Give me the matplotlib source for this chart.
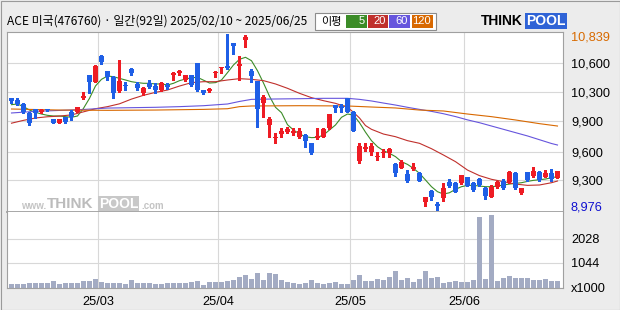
import numpy as np
import matplotlib
matplotlib.use('Agg')
import matplotlib.pyplot as plt
from matplotlib.patches import Rectangle

# ---------------- data ----------------
title = 'ACE 미국(476760) · 일간(92일) 2025/02/10 ~ 2025/06/25'

opens = [10158, 10140, 10098, 10006, 10041, 10010, 10038, 9939, 9900, 9957,
         10013, 10017, 10165, 10405, 10334, 10610, 10444, 10387, 10236, 10299,
         10465, 10306, 10211, 10317, 10288, 10246, 10299, 10408, 10430, 10352,
         10402, 10528, 10246, 10235, 10423, 10476, 10500, 10740, 10500, 10775,
         10451, 10341, 10112, 9879, 9735, 9780, 9805, 9795, 9752, 9770,
         9682, 9735, 9752, 9840, 10087, 10077, 10158, 10013, 9498, 9618,
         9593, 9533, 9576, 9576, 9463, 9424, 9354, 9410, 9371, 9064,
         9177, 9036, 9107, 9272, 9265, 9258, 9322, 9258, 9304, 9212,
         9117, 9223, 9283, 9276, 9371, 9152, 9375, 9336, 9382, 9329,
         9371, 9318]
highs = [10165, 10161, 10105, 10010, 10048, 10048, 10041, 9942, 9942, 9960,
         10034, 10070, 10225, 10405, 10510, 10620, 10450, 10395, 10564, 10334,
         10483, 10331, 10275, 10352, 10317, 10331, 10317, 10440, 10458, 10410,
         10405, 10530, 10250, 10265, 10451, 10493, 10839, 10740, 10606, 10828,
         10469, 10345, 10190, 9957, 9788, 9840, 9851, 9840, 9840, 9780,
         9685, 9840, 9840, 9995, 10087, 10098, 10165, 10020, 9682, 9682,
         9689, 9593, 9618, 9629, 9470, 9505, 9399, 9477, 9375, 9117,
         9184, 9064, 9258, 9300, 9272, 9350, 9328, 9272, 9310, 9219,
         9240, 9286, 9300, 9392, 9378, 9208, 9382, 9428, 9392, 9399,
         9406, 9392]
lows = [10105, 10087, 10005, 9879, 9946, 9999, 10027, 9897, 9897, 9893,
        9929, 10013, 10154, 10211, 10330, 10521, 10352, 10165, 10230, 10246,
        10405, 10246, 10193, 10264, 10211, 10240, 10260, 10352, 10405, 10345,
        10290, 10240, 10205, 10225, 10380, 10423, 10465, 10624, 10352, 10698,
        10334, 9858, 9957, 9752, 9689, 9752, 9795, 9770, 9735, 9646,
        9573, 9728, 9745, 9835, 10010, 10017, 10010, 9810, 9477, 9604,
        9558, 9505, 9540, 9533, 9340, 9417, 9276, 9399, 9283, 9018,
        9082, 8976, 9071, 9223, 9163, 9251, 9226, 9180, 9233, 9089,
        9110, 9205, 9195, 9258, 9198, 9145, 9286, 9329, 9283, 9322,
        9286, 9311]
closes = [10133, 10098, 10013, 9900, 9999, 10031, 10031, 9900, 9939, 9907,
          9957, 10066, 10186, 10334, 10504, 10546, 10387, 10211, 10341, 10289,
          10423, 10271, 10271, 10281, 10246, 10324, 10281, 10423, 10444, 10405,
          10299, 10246, 10214, 10255, 10437, 10486, 10483, 10712, 10522, 10810,
          10398, 10049, 10169, 9939, 9752, 9812, 9833, 9812, 9812, 9710,
          9576, 9763, 9830, 9992, 10052, 10060, 10017, 9816, 9653, 9639,
          9653, 9551, 9593, 9618, 9364, 9488, 9283, 9435, 9286, 9110,
          9110, 9022, 9212, 9233, 9170, 9346, 9233, 9188, 9240, 9124,
          9223, 9272, 9205, 9382, 9205, 9205, 9294, 9389, 9294, 9371,
          9300, 9389]
volumes = [140, 167, 140, 195, 181, 181, 181, 263, 153, 181,
           208, 208, 263, 263, 359, 249, 208, 208, 208, 167,
           304, 208, 181, 208, 167, 153, 195, 195, 181, 208,
           222, 277, 115, 222, 222, 222, 277, 318, 455, 523,
           359, 606, 318, 606, 565, 318, 222, 195, 167, 195,
           318, 195, 167, 195, 222, 167, 153, 318, 523, 277,
           277, 359, 332, 455, 688, 318, 414, 222, 359, 688,
           414, 455, 208, 249, 277, 222, 249, 318, 2947, 359,
           3029, 277, 414, 482, 387, 387, 414, 318, 318, 359,
           277, 277]

ma5 = [10091, 10098, 10070, 10034, 10010, 9992, 9978, 9971, 9971, 9964,
       9957, 9971, 10052, 10158, 10289, 10359, 10394, 10387, 10369, 10352,
       10334, 10324, 10317, 10317, 10310, 10310, 10299, 10317, 10345, 10362,
       10376, 10380, 10350, 10320, 10324, 10352, 10430, 10511, 10571, 10592,
       10556, 10450, 10320, 10180, 10063, 10006, 9879, 9823, 9781, 9752,
       9742, 9745, 9770, 9823, 9876, 9957, 9992, 9981, 9900, 9800,
       9710, 9646, 9604, 9576, 9541, 9488, 9459, 9417, 9364, 9294,
       9223, 9170, 9145, 9159, 9195, 9223, 9237, 9237, 9230, 9223,
       9223, 9230, 9241, 9251, 9258, 9265, 9279, 9290, 9297, 9304,
       9318, 9329]
ma20_day = [0, 2, 4, 6, 8, 10, 12, 14, 16, 18, 20, 22, 24, 26, 28, 30, 32, 34,
            36, 38, 40, 42, 44, 46, 48, 50, 52, 54, 56, 57, 58, 59, 60, 62, 64,
            66, 68, 70, 72, 74, 76, 78, 80, 82, 84, 86, 88, 90, 91]
ma20 = [9895, 9925, 9950, 9963, 9970, 9983, 10015, 10048, 10070, 10100, 10150,
        10190, 10221, 10246, 10288, 10324, 10334, 10334, 10352, 10366, 10359,
        10345, 10310, 10264, 10211, 10165, 10133, 10105, 10063, 10010, 9950,
        9870, 9830, 9780, 9752, 9710, 9682, 9625, 9558, 9488, 9399, 9340,
        9301, 9276, 9251, 9237, 9241, 9265, 9283]
ma60_day = [0, 4, 8, 12, 16, 20, 24, 28, 32, 36, 38, 40, 44, 48, 52, 56, 58,
            60, 62, 64, 66, 68, 70, 72, 74, 76, 78, 80, 82, 84, 86, 88, 90, 91]
ma60 = [10003, 10020, 10030, 10040, 10055, 10059, 10063, 10070, 10080, 10098,
        10125, 10147, 10151, 10154, 10158, 10158, 10147, 10130, 10108, 10087,
        10063, 10041, 10020, 9995, 9965, 9930, 9900, 9865, 9830, 9795, 9760,
        9720, 9680, 9664]
ma120_day = [0, 8, 16, 24, 32, 36, 38, 40, 48, 56, 60, 64, 68, 72, 76, 80, 84,
             88, 91]
ma120 = [10045, 10034, 10031, 10034, 10041, 10048, 10070, 10077, 10080, 10077,
         10066, 10056, 10034, 10024, 9992, 9964, 9929, 9890, 9865]

month_first_day = [15, 35, 57, 76]
month_labels = ['25/03', '25/04', '25/05', '25/06']
price_grid = [10529, 10222, 9918, 9593, 9290]
price_grid_labels = ['10,600', '10,300', '9,900', '9,600', '9,300']
vol_grid = [0, 1044, 2028]
vol_grid_labels = ['x1000', '1044', '2028']
ma_names = ['5', '20', '60', '120']

# ---------------- styles ----------------
RED = '#ee1c24'
BLUE = '#1f5fe6'
MA_COLORS = ['#3c8c28', '#c0302c', '#6655dd', '#d86800']
GRID = '#d8d8d8'
FRAME = '#a0a0a0'
NUM_FONT = ['Liberation Sans', 'DejaVu Sans']
KR_FONT = ['Noto Sans CJK KR', 'DejaVu Sans']
NUM_SIZE = 9.2
W, H = 620, 310


def fx(px):
    return px / W


def fy(py):
    return 1 - py / H


fig = plt.figure(figsize=(6.2, 3.1), dpi=100, facecolor='#ececec')
ax = fig.add_axes([fx(7), fy(212.3), 556 / W, 180.6 / H])
axv = fig.add_axes([fx(7), fy(287.7), 556 / W, 75.4 / H], sharex=ax)

x = np.arange(len(closes))
o = np.array(opens)
c = np.array(closes)
hi = np.array(highs)
lo = np.array(lows)
col = np.where(c >= o, RED, BLUE)

# moving averages
ax.plot(x, ma5, color=MA_COLORS[0], lw=0.8, zorder=2)
ax.plot(ma20_day, ma20, color=MA_COLORS[1], lw=0.8, zorder=2)
ax.plot(ma60_day, ma60, color=MA_COLORS[2], lw=0.8, zorder=2)
ax.plot(ma120_day, ma120, color=MA_COLORS[3], lw=0.8, zorder=2)

# candles
ax.vlines(x, lo, hi, colors=col, lw=0.75, zorder=3, antialiased=False)
body = np.maximum(np.abs(c - o), 9)
ax.bar(x, body, bottom=np.minimum(o, c), width=0.8, color=col, lw=0,
       zorder=4, antialiased=False)

ax.set_xlim(-0.75, 91.92)
ax.set_ylim(8952, 10863)
grid_x = [m - 0.5 for m in month_first_day]
ax.set_xticks(grid_x)
ax.tick_params(axis='x', length=0, labelbottom=False)
ax.yaxis.tick_right()
ax.set_yticks(price_grid, price_grid_labels)
ax.tick_params(axis='y', length=0, pad=5.8, labelsize=NUM_SIZE)
for t in ax.get_yticklabels():
    t.set_family(NUM_FONT)
ax.grid(True, color=GRID, lw=0.8)
ax.set_axisbelow(True)
for s in ax.spines.values():
    s.set_color(FRAME)
    s.set_linewidth(0.8)
ax.spines['bottom'].set_linewidth(1.3)

ax.annotate(f'{max(highs):,}', xy=(1, max(highs)),
            xycoords=('axes fraction', 'data'), xytext=(8, -3.3),
            textcoords='offset pixels', va='center', ha='left',
            color='#d86a00', fontsize=NUM_SIZE, family=NUM_FONT)
ax.annotate(f'{min(lows):,}', xy=(1, min(lows)),
            xycoords=('axes fraction', 'data'), xytext=(8, 2.7),
            textcoords='offset pixels', va='center', ha='left',
            color='#1010d0', fontsize=NUM_SIZE, family=NUM_FONT)

# watermark
fig.text(fx(46), fy(206), 'www.', color='#c4c4c4', fontsize=7,
         va='center', ha='right', weight='bold', family=NUM_FONT)
fig.text(fx(47), fy(203.5), 'THINK', color='#bcbcbc', fontsize=11,
         va='center', ha='left', weight='bold', family=NUM_FONT)
fig.text(fx(99), fy(203.5), 'POOL', color='white', fontsize=10,
         va='center', ha='left', weight='bold', family=NUM_FONT,
         bbox=dict(boxstyle='square,pad=0.05', fc='#c8c8c8', ec='none'))
fig.text(fx(141), fy(206), '.com', color='#c4c4c4', fontsize=7,
         va='center', ha='left', weight='bold', family=NUM_FONT)

# volume
axv.bar(x, volumes, width=0.78, color='#a3abc3', lw=0, antialiased=False)
axv.set_ylim(0, 3124)
axv.yaxis.tick_right()
axv.set_yticks(vol_grid, vol_grid_labels)
axv.tick_params(axis='y', length=0, pad=5.8, labelsize=NUM_SIZE)
axv.set_xticks(grid_x, month_labels)
axv.tick_params(axis='x', length=0, pad=6, labelsize=NUM_SIZE)
for t in axv.get_yticklabels() + axv.get_xticklabels():
    t.set_family(NUM_FONT)
axv.grid(True, color=GRID, lw=0.8)
axv.set_axisbelow(True)
for s in axv.spines.values():
    s.set_color(FRAME)
    s.set_linewidth(0.8)
axv.spines['top'].set_visible(False)

# title
fig.text(fx(7), fy(21.5), title, fontsize=8.6, family=KR_FONT,
         va='center', ha='left')

# legend box
fig.patches.append(Rectangle((fx(315), fy(30)), 121 / W, 17.3 / H,
                             transform=fig.transFigure, fc='white',
                             ec='#8c8c8c', lw=0.8))
fig.text(fx(321), fy(21.5), '이평', fontsize=8, family=KR_FONT,
         va='center', ha='left')
cells = [(346, 367), (368, 387.5), (389, 410), (412, 433)]
for (x0, x1), name, mc in zip(cells, ma_names, MA_COLORS):
    fig.patches.append(Rectangle((fx(x0), fy(27.7)), (x1 - x0) / W, 12.7 / H,
                                 transform=fig.transFigure, fc=mc, ec='none'))
    fig.text(fx(x1 - 2), fy(21.5), name, color='white', fontsize=8,
             family=NUM_FONT, va='center', ha='right')

# logo
fig.text(fx(481), fy(21), 'THINK', fontsize=10, weight='bold',
         color='black', va='center', ha='left', family=NUM_FONT)
fig.text(fx(526), fy(21), 'POOL', fontsize=10, weight='bold',
         color='white', va='center', ha='left', family=NUM_FONT,
         bbox=dict(boxstyle='square,pad=0.1', fc='#2f63d6', ec='none'))

# outer frame
fig.patches.append(Rectangle((0.5 / W, 0.5 / H), 619 / W, 309 / H,
                             transform=fig.transFigure, fc='none',
                             ec='#9a9a9a', lw=0.8))

fig.savefig('out.png', dpi=100, facecolor=fig.get_facecolor())
